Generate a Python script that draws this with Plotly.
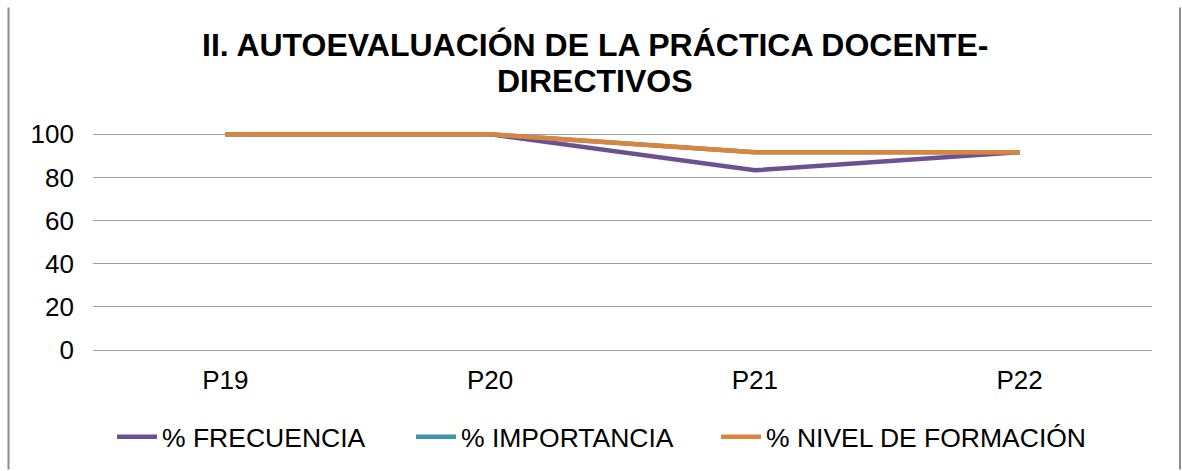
import plotly.graph_objects as go

categories = ["P19", "P20", "P21", "P22"]
frecuencia = [100, 100, 83.3, 91.7]
importancia = [100, 100, 91.7, 91.7]
nivel_formacion = [100, 100, 91.7, 91.7]
y_ticks = [0, 20, 40, 60, 80, 100]

title_line1 = "II. AUTOEVALUACIÓN DE LA PRÁCTICA DOCENTE-"
title_line2 = "DIRECTIVOS"

FONT = "Arial, 'Liberation Sans', sans-serif"

fig = go.Figure()
fig.add_trace(go.Scatter(x=categories, y=frecuencia, mode="lines", name="% FRECUENCIA",
                         line=dict(color="#6C5192", width=4.5), legend="legend"))
fig.add_trace(go.Scatter(x=categories, y=importancia, mode="lines", name="% IMPORTANCIA",
                         line=dict(color="#3D96AE", width=4.5), legend="legend2"))
fig.add_trace(go.Scatter(x=categories, y=nivel_formacion, mode="lines", name="% NIVEL DE FORMACIÓN",
                         line=dict(color="#DB843D", width=4.5), legend="legend3"))

L, T, W, H = 93, 130, 1059, 221

def px_x(px):
    return (px - L) / W

def px_y(py):
    return (T + H - py) / H

def leg(px):
    return dict(orientation="h", x=px_x(px), xanchor="left", xref="paper",
                y=px_y(437), yanchor="middle", font=dict(size=26.5, family=FONT),
                itemwidth=40, bgcolor="rgba(0,0,0,0)")

fig.update_layout(
    width=1182, height=471,
    margin=dict(l=L, r=1182 - L - W, t=T, b=471 - T - H),
    paper_bgcolor="white", plot_bgcolor="white",
    font=dict(family=FONT, size=26, color="black"),
    showlegend=True,
    legend=leg(112),
    legend2=leg(411),
    legend3=leg(716),
    xaxis=dict(type="category", range=[-0.5, 3.5], showgrid=False, zeroline=False,
               showline=False, ticks="", tickfont=dict(size=26), ticklabelstandoff=12),
    yaxis=dict(range=[0, 102], tickvals=y_ticks, showgrid=True, gridcolor="#A0A0A0",
               gridwidth=1.2, zeroline=True, zerolinecolor="#A0A0A0", zerolinewidth=1.2,
               showline=False, ticks="", tickfont=dict(size=26), ticklabelstandoff=18),
    annotations=[
        dict(text="<b>" + title_line1 + "</b>", x=px_x(595), y=px_y(45), xref="paper", yref="paper",
             xanchor="center", yanchor="middle", showarrow=False, font=dict(size=32, family=FONT)),
        dict(text="<b>" + title_line2 + "</b>", x=px_x(595), y=px_y(81), xref="paper", yref="paper",
             xanchor="center", yanchor="middle", showarrow=False, font=dict(size=32, family=FONT)),
    ],
    shapes=[
        dict(type="line", xref="paper", yref="paper", x0=px_x(8.5), x1=px_x(8.5), y0=px_y(7), y1=px_y(471),
             line=dict(color="#8C8C8C", width=2)),
        dict(type="line", xref="paper", yref="paper", x0=px_x(1180), x1=px_x(1180), y0=px_y(7), y1=px_y(471),
             line=dict(color="#8C8C8C", width=2)),
    ],
)

fig.write_html("out.html", config={"displayModeBar": False},
               post_script="document.body.style.margin='0';document.body.style.overflow='hidden';")
